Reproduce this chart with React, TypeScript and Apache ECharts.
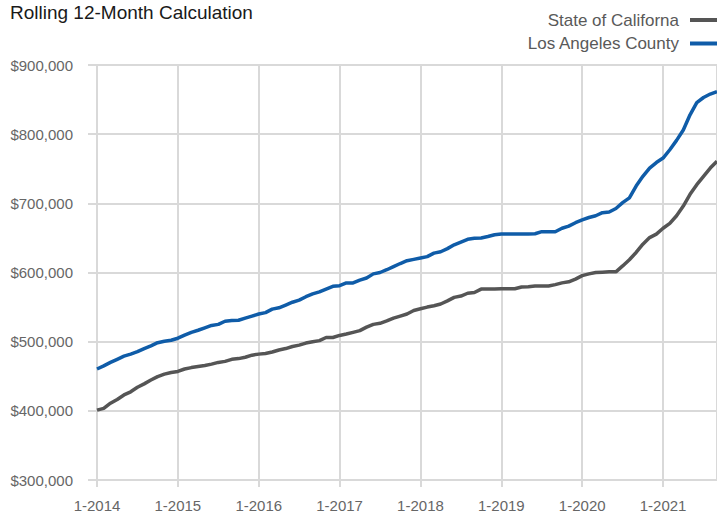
import React, { useEffect, useRef } from "react";
import * as echarts from "echarts";

// Monthly values, Jan 2014 .. Sep 2021, in thousands of dollars
const californiaValues = [
  // 2014
  401, 403.5, 411, 416.5, 423, 427.5, 434, 439, 444.5, 449.5, 453, 455.5,
  // 2015
  457, 460.5, 462.5, 464, 465.5, 467.5, 470, 471.5, 474.5, 475.5, 477.5, 480.5,
  // 2016
  482, 483, 485, 488, 490, 493, 495, 498, 500, 501.5, 506, 506,
  // 2017
  509, 511, 513.5, 516, 521, 525, 526.5, 530, 534, 537, 540, 545,
  // 2018
  547.5, 550, 552, 554.5, 559, 564, 566, 570, 571, 576, 576, 576,
  // 2019
  576.5, 576.5, 576.5, 579, 579.5, 580.5, 580.5, 580.5, 582.5, 585, 586.5, 590.5,
  // 2020
  595.5, 598, 600, 600.5, 601, 601, 609.5, 618.5, 629, 641, 650.5, 655.5,
  // 2021
  664, 671, 682, 696, 713, 727, 739, 751, 761,
];

const laCountyValues = [
  // 2014
  460.5, 465, 470, 474.5, 479, 482, 485.5, 490, 494, 498.5, 500.5, 502,
  // 2015
  505, 509.5, 513.5, 516.5, 520, 523.5, 525, 529.5, 530.5, 531, 534, 537,
  // 2016
  540, 542, 547, 549, 553, 557, 560, 565, 569, 572, 576, 580,
  // 2017
  581, 585, 585, 589, 592, 598, 600, 604, 608.5, 613, 617, 619,
  // 2018
  621, 623, 628, 630, 634.5, 640, 644, 648, 649.5, 650, 652, 654.5,
  // 2019
  655.5, 655.5, 655.5, 655.5, 655.5, 656, 659, 659, 659, 664, 667, 672,
  // 2020
  676, 679.5, 682, 686.5, 687.5, 692.5, 701, 708, 725, 739, 751, 759,
  // 2021
  765.5, 777.5, 791, 806, 828, 845.5, 853, 858, 861.5,
];

const seriesNames = ["State of Californa", "Los Angeles County"];
const startYear = 2014;
const yTicks = [300000, 400000, 500000, 600000, 700000, 800000, 900000];

const FONT = "'Liberation Sans', Arial, Helvetica, sans-serif";
const GRID_COLOR = "#d9d9d9";

export default function App() {
  const ref = useRef<HTMLDivElement>(null);

  useEffect(() => {
    if (!ref.current) return;
    const chart = echarts.init(ref.current, undefined, { renderer: "svg" });
    const toPoints = (arr: number[]) => arr.map((v, i) => [i, v * 1000]);
    const lastIndex = californiaValues.length - 1;

    chart.setOption({
      animation: false,
      title: {
        text: "Rolling 12-Month Calculation",
        left: 10,
        top: 3,
        padding: 0,
        textStyle: {
          fontFamily: FONT,
          fontSize: 19,
          fontWeight: "normal",
          color: "#1a1a1a",
        },
      },
      legend: {
        data: seriesNames,
        orient: "vertical",
        right: 0,
        top: 11,
        padding: 0,
        align: "right",
        icon: "rect",
        itemWidth: 27,
        itemHeight: 4,
        itemGap: 5.5,
        textStyle: {
          fontFamily: FONT,
          fontSize: 17,
          color: "#595959",
          lineHeight: 18,
          padding: [0, 6, 0, 0],
        },
      },
      grid: {
        left: 97,
        top: 65,
        width: 622,
        height: 415,
        containLabel: false,
      },
      xAxis: {
        type: "value",
        min: 0,
        max: lastIndex,
        interval: 12,
        axisLine: { show: false },
        axisTick: {
          show: true,
          length: 7,
          lineStyle: { color: GRID_COLOR, width: 2 },
        },
        splitLine: {
          show: true,
          lineStyle: { color: GRID_COLOR, width: 2 },
        },
        axisLabel: {
          fontFamily: FONT,
          fontSize: 15,
          color: "#666666",
          margin: 18,
          showMaxLabel: false,
          formatter: (v: number) => `1-${startYear + Math.round(v / 12)}`,
        },
      },
      yAxis: {
        type: "value",
        min: yTicks[0],
        max: yTicks[yTicks.length - 1],
        interval: 100000,
        axisLine: { show: false },
        axisTick: {
          show: true,
          length: 9,
          lineStyle: { color: GRID_COLOR, width: 2 },
        },
        splitLine: {
          show: true,
          lineStyle: { color: GRID_COLOR, width: 2 },
        },
        axisLabel: {
          fontFamily: FONT,
          fontSize: 15,
          color: "#666666",
          margin: 24,
          formatter: (v: number) => "$" + v.toLocaleString("en-US"),
        },
      },
      series: [
        {
          name: seriesNames[0],
          type: "line",
          data: toPoints(californiaValues),
          showSymbol: false,
          symbol: "none",
          lineStyle: { color: "#555555", width: 3.5 },
          itemStyle: { color: "#555555" },
          z: 3,
        },
        {
          name: seriesNames[1],
          type: "line",
          data: toPoints(laCountyValues),
          showSymbol: false,
          symbol: "none",
          lineStyle: { color: "#0f5ca8", width: 3.5 },
          itemStyle: { color: "#0f5ca8" },
          z: 4,
        },
      ],
    });

    return () => chart.dispose();
  }, []);

  return (
    <div
      ref={ref}
      style={{ position: "absolute", left: 0, top: 0, width: 717, height: 514 }}
    />
  );
}
